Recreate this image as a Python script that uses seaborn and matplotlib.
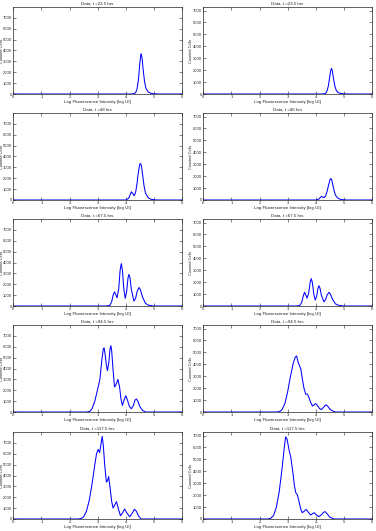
import matplotlib
matplotlib.use("Agg")
import matplotlib.pyplot as plt
import seaborn as sns
import pandas as pd

sns.set_style("white")
plt.rcParams['font.family'] = ['Liberation Sans Narrow', 'Liberation Sans', 'DejaVu Sans']

# ---- data ----
titles_left = ["Data, t =23.5 hrs", "Data, t =48 hrs", "Data, t =67.5 hrs",
               "Data, t =94.5 hrs", "Data, t =117.5 hrs"]
titles_right = ["Data, t =23.5 hrs", "Data, t =46 hrs", "Data, t =67.5 hrs",
                "Data, t =94.5 hrs", "Data, t =117.5 hrs"]
x_ticks = [0, 1, 2, 3, 4, 5, 6]
y_ticks = [0, 1000, 2000, 3000, 4000, 5000, 6000, 7000]

x1 = [0, 4.2, 4.3, 4.35, 4.4, 4.45, 4.5, 4.53, 4.55, 4.58, 4.62, 4.67, 4.72, 4.8, 4.9, 5.0, 5.2, 6]
y1 = [0, 0, 40, 120, 450, 1300, 2800, 3500, 3700, 3300, 2200, 1100, 500, 180, 60, 20, 0, 0]

x2 = [0, 4.2, 4.3, 4.35, 4.4, 4.45, 4.5, 4.53, 4.56, 4.59, 4.63, 4.68, 4.73, 4.8, 4.9, 5.0, 5.2, 6]
y2 = [0, 0, 20, 60, 250, 700, 1500, 1950, 2150, 1950, 1300, 650, 300, 110, 40, 15, 0, 0]

x3 = [0, 4.0, 4.1, 4.15, 4.2, 4.25, 4.3, 4.35, 4.4, 4.45, 4.5, 4.53, 4.56, 4.6, 4.65, 4.7, 4.8, 4.9, 5.1, 6]
y3 = [0, 0, 150, 450, 750, 600, 400, 700, 1500, 2600, 3300, 3350, 3100, 2300, 1300, 650, 200, 60, 0, 0]

x4 = [0, 4.0, 4.1, 4.15, 4.2, 4.25, 4.3, 4.35, 4.4, 4.45, 4.5, 4.53, 4.56, 4.6, 4.65, 4.7, 4.8, 4.9, 5.1, 6]
y4 = [0, 0, 60, 180, 300, 250, 200, 350, 700, 1200, 1650, 1800, 1750, 1350, 800, 400, 130, 40, 0, 0]

x5 = [0, 3.3, 3.43, 3.5, 3.55, 3.6, 3.65, 3.69, 3.75, 3.8, 3.84, 3.88, 3.93, 3.98, 4.03, 4.08, 4.11,
      4.15, 4.2, 4.29, 4.35, 4.4, 4.47, 4.52, 4.6, 4.7, 4.8, 5.0, 6]
y5 = [0, 0, 50, 400, 1000, 1300, 1000, 750, 1600, 3300, 3900, 3300, 1600, 700, 1300, 2600, 2900,
      2600, 1500, 450, 700, 1300, 1700, 1500, 800, 250, 80, 0, 0]

x6 = [0, 3.3, 3.43, 3.5, 3.55, 3.6, 3.65, 3.69, 3.75, 3.8, 3.84, 3.88, 3.93, 3.98, 4.03, 4.08, 4.11,
      4.15, 4.2, 4.29, 4.35, 4.4, 4.47, 4.52, 4.6, 4.7, 4.8, 5.0, 6]
y6 = [0, 0, 40, 300, 800, 1150, 900, 650, 1100, 2000, 2300, 1950, 1000, 500, 800, 1500, 1700,
      1500, 900, 350, 550, 900, 1150, 1000, 550, 180, 60, 0, 0]

x7 = [0, 2.6, 2.72, 2.8, 2.9, 3.0, 3.08, 3.15, 3.2, 3.23, 3.27, 3.31, 3.35, 3.4, 3.44, 3.47, 3.5,
      3.55, 3.6, 3.65, 3.72, 3.78, 3.83, 3.88, 3.94, 4.0, 4.06, 4.13, 4.2, 4.27, 4.33, 4.38, 4.43,
      4.5, 4.6, 4.7, 6]
y7 = [0, 0, 50, 300, 1000, 2100, 3000, 4800, 5800, 5900, 5200, 4300, 3800, 4600, 5800, 6100, 5600,
      3800, 2300, 2500, 3000, 2300, 1200, 600, 1100, 1500, 1100, 500, 300, 600, 1100, 1200, 1000,
      500, 150, 0, 0]

x8 = [0, 2.6, 2.72, 2.8, 2.9, 3.0, 3.1, 3.2, 3.27, 3.32, 3.37, 3.42, 3.47, 3.52, 3.58, 3.64, 3.7,
      3.76, 3.82, 3.88, 3.94, 4.0, 4.06, 4.13, 4.2, 4.28, 4.35, 4.42, 4.5, 4.6, 4.7, 6]
y8 = [0, 0, 40, 200, 700, 1700, 3000, 4100, 4600, 4700, 4200, 3900, 3600, 2800, 2000, 1500, 1500,
      1200, 800, 500, 600, 700, 550, 300, 200, 400, 600, 500, 250, 80, 0, 0]

x9 = [0, 2.3, 2.42, 2.5, 2.6, 2.7, 2.8, 2.9, 2.96, 3.02, 3.07, 3.12, 3.16, 3.2, 3.25, 3.31, 3.35,
      3.39, 3.44, 3.5, 3.55, 3.61, 3.67, 3.73, 3.81, 3.88, 3.96, 4.04, 4.14, 4.22, 4.31, 4.38,
      4.46, 4.55, 6]
y9 = [0, 0, 50, 200, 700, 1700, 3200, 5000, 6000, 6400, 6100, 6900, 7600, 6800, 5000, 3400, 3500,
      3900, 2900, 1600, 1000, 1300, 1600, 1000, 300, 550, 920, 550, 200, 500, 900, 700,
      250, 0, 0]

x10 = [0, 2.3, 2.4, 2.5, 2.6, 2.7, 2.8, 2.88, 2.93, 2.98, 3.04, 3.11, 3.18, 3.24, 3.29, 3.35, 3.42,
       3.47, 3.52, 3.59, 3.66, 3.74, 3.82, 3.88, 3.94, 4.02, 4.11, 4.2, 4.27, 4.33, 4.4, 4.5,
       4.65, 6]
y10 = [0, 0, 60, 300, 1000, 2300, 4200, 6000, 6900, 6700, 5900, 5200, 4000, 2800, 2200, 2000, 1300,
       800, 530, 650, 800, 550, 340, 430, 530, 350, 200, 350, 550, 620, 450, 150,
       0, 0]

left_series = [(x1, y1), (x3, y3), (x5, y5), (x7, y7), (x9, y9)]
right_series = [(x2, y2), (x4, y4), (x6, y6), (x8, y8), (x10, y10)]

# ---- layout ----
W, H = 376, 531
fig = plt.figure(figsize=(W / 100, H / 100), dpi=100)
fig.patch.set_facecolor("white")

row_tops = [7, 113, 219, 325, 432]
ax_h = 87
col_lefts = [13.3, 203.3]
ax_w = 168.7
ylims = [8000, 7300]
ylabel_x = [-0.0545, -0.064]
fs = 3.0

for c, (series, titles) in enumerate([(left_series, titles_left), (right_series, titles_right)]):
    for r in range(5):
        top = row_tops[r]
        ax = fig.add_axes([col_lefts[c] / W, 1 - (top + ax_h) / H, ax_w / W, ax_h / H])
        xs, ys = series[r]
        df = pd.DataFrame({"x": xs, "y": ys})
        sns.lineplot(data=df, x="x", y="y", ax=ax, color="#0000ff", linewidth=0.75,
                     sort=False, estimator=None)
        ax.set_xlim(0, 6)
        ax.set_ylim(0, ylims[c])
        ax.set_xticks(x_ticks)
        ax.set_yticks(y_ticks)
        ax.set_xticklabels([str(t) for t in x_ticks])
        ax.set_yticklabels([str(t) for t in y_ticks])
        ax.tick_params(direction="in", length=2, width=0.4, labelsize=fs, pad=1.0,
                       top=True, right=True, bottom=True, left=True, colors="#222222")
        for s in ax.spines.values():
            s.set_linewidth(0.5)
            s.set_color("#222222")
        ax.set_title(titles[r], fontsize=3.2, pad=2, color="#222222")
        ax.set_xlabel("Log Fluorescence Intensity [log UI]", fontsize=3.2, labelpad=0.5,
                      color="#222222")
        ax.set_ylabel("Counted Cells", fontsize=2.8, color="#222222")
        ax.yaxis.set_label_coords(ylabel_x[c], 0.5)

fig.savefig("out.png", dpi=100, facecolor="white")
